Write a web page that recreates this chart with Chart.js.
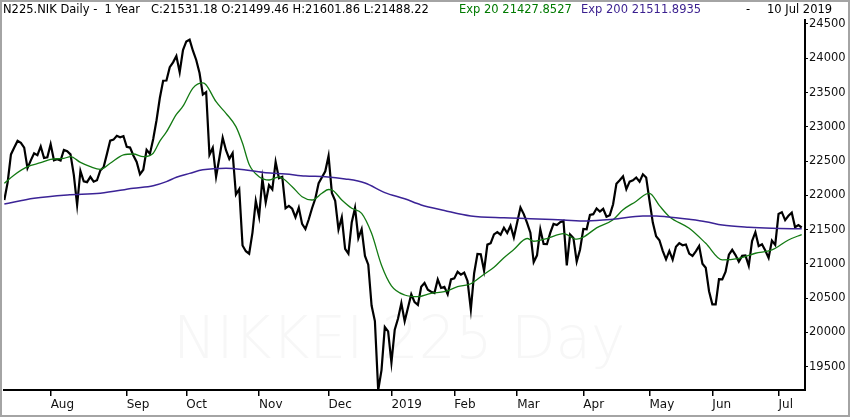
<!DOCTYPE html>
<html>
<head>
<meta charset="utf-8">
<script src="https://cdn.jsdelivr.net/npm/chart.js@4.4.1/dist/chart.umd.min.js"></script>
<style>
  html, body { margin: 0; padding: 0; background: #fff; }
  #frame {
    position: relative; width: 850px; height: 417px; box-sizing: border-box;
    border: 2px solid #a4a4a4; background: #fff; overflow: hidden;
  }
  #frame canvas { position: absolute; left: 0; top: 0; z-index: 1; }
  .hd { position: absolute; top: 0; font: 11.5px "DejaVu Sans", sans-serif; white-space: pre; z-index: 2; }
  #mark {
    position: absolute; left: 171px; top: 302px; z-index: 0;
    font: 200 58px "DejaVu Sans", sans-serif; color: #f7f7f7; white-space: pre;
  }
</style>
</head>
<body>
<div id="frame">
  <div class="hd" style="left:1px;color:#000">N225.NIK Daily -  1 Year   C:21531.18 O:21499.46 H:21601.86 L:21488.22</div>
  <div class="hd" style="left:457px;color:#007a00">Exp 20 21427.8527</div>
  <div class="hd" style="left:579px;color:#3a1f8f">Exp 200 21511.8935</div>
  <div class="hd" style="left:744px;color:#000">-</div>
  <div class="hd" style="left:765px;color:#000">10 Jul 2019</div>
  <div id="mark">NIKKEI 225 Day</div>
  <canvas id="chart" width="846" height="413"></canvas>
</div>
<script>
// daily closes, 11 Jul 2018 .. 10 Jul 2019 (trading-day index on x)
const closes = [
  // Jul 2018
  21932, 22188, 22597, 22698, 22794, 22765, 22697, 22397, 22510, 22614, 22587, 22713, 22545, 22554,
  // Aug
  22747, 22512, 22526, 22507, 22663, 22644, 22598, 22298, 21858, 22356, 22204, 22192, 22270, 22199,
  22220, 22362, 22410, 22601, 22799, 22813, 22869, 22848, 22865,
  // Sep
  22707, 22697, 22581, 22488, 22307, 22373, 22664, 22605, 22821, 23095, 23420, 23672, 23675, 23870,
  23940, 24034, 23797, 24120,
  // Oct
  24245, 24271, 24110, 23975, 23784, 23470, 23507, 22591, 22695, 22272, 22549, 22841, 22658, 22532,
  22615, 22011, 22092, 21268, 21185, 21149, 21457, 21920,
  // Nov
  21687, 22244, 21898, 22148, 22086, 22487, 22250, 22270, 21811, 21846, 21804, 21680, 21821, 21584,
  21508, 21647, 21812, 21953, 22177, 22263, 22351,
  // Dec
  22575, 22036, 21919, 21501, 21679, 21220, 21148, 21603, 21816, 21375, 21507, 21116, 20988, 20393,
  20166, 19156, 19450, 20078, 20015,
  // Jan 2019
  19561, 20039, 20204, 20427, 20164, 20360, 20556, 20443, 20402, 20666, 20720, 20622, 20594, 20575,
  20774, 20649, 20665, 20557, 20773,
  // Feb
  20788, 20884, 20844, 20874, 20751, 20333, 20864, 21144, 21140, 20901, 21281, 21302, 21431, 21464,
  21426, 21528, 21450, 21556, 21385,
  // Mar
  21603, 21822, 21726, 21597, 21456, 21025, 21125, 21504, 21290, 21287, 21451, 21584, 21567, 21609,
  21627, 20977, 21428, 21378, 21033, 21206,
  // Apr
  21509, 21505, 21713, 21725, 21807, 21762, 21802, 21688, 21711, 21870, 22169, 22221, 22278, 22091,
  22200, 22218, 22260, 22200, 22307, 22259,
  // May
  21923, 21602, 21402, 21345, 21191, 21067, 21189, 21063, 21250, 21302, 21272, 21283, 21151, 21117,
  21183, 21261, 21003, 20943, 20601,
  // Jun
  20410, 20408, 20776, 20774, 20885, 21134, 21205, 21129, 21032, 21117, 21124, 20972, 21333, 21462,
  21259, 21286, 21194, 21087, 21339, 21276,
  // Jul
  21730, 21754, 21638, 21702, 21747, 21535, 21565, 21531
];

// exponential averages at sample days
const ema20Idx = [0, 3, 7, 11, 14, 18, 20, 23, 26, 29, 32, 36, 39, 42, 45, 47, 49, 52, 54, 57, 60, 61,
  64, 67, 70, 72, 74, 77, 80, 83, 87, 90, 93, 96, 98, 99, 102, 105, 108, 111, 114, 117, 121, 125, 129,
  133, 137, 141, 145, 148, 151, 154, 158, 160, 164, 169, 173, 175, 179, 184, 187, 191, 194, 195, 198,
  201, 207, 212, 217, 222, 227, 232, 237, 241];
const ema20Val = [22176, 22297, 22418, 22476, 22526, 22540, 22565, 22480, 22418, 22380, 22468, 22589,
  22603, 22565, 22615, 22790, 22925, 23180, 23300, 23565, 23640, 23610, 23366, 23197, 23002, 22759,
  22450, 22272, 22224, 22270, 22126, 21980, 21932, 22030, 22085, 22080, 21932, 21811, 21738, 21446,
  20980, 20680, 20546, 20521, 20571, 20594, 20667, 20710, 20850, 20950, 21090, 21210, 21370, 21330,
  21370, 21440, 21360, 21390, 21525, 21645, 21790, 21915, 22020, 22030, 21850, 21689, 21519, 21300,
  21057, 21081, 21155, 21203, 21349, 21428];

const ema200Idx = [0, 9, 19, 29, 39, 45, 49, 52, 56, 60, 67, 73, 79, 85, 91, 97, 103, 109, 115, 121,
  126, 133, 141, 151, 159, 169, 176, 184, 193, 197, 200, 207, 212, 217, 225, 232, 241];
const ema200Val = [21874, 21957, 22005, 22030, 22103, 22140, 22200, 22265, 22320, 22372, 22395, 22370,
  22331, 22312, 22282, 22272, 22240, 22180, 22040, 21950, 21860, 21780, 21700, 21672, 21660, 21640,
  21626, 21650, 21699, 21699, 21689, 21650, 21616, 21567, 21534, 21519, 21512];

const monthIdx = [14, 37, 55, 77, 98, 117, 136, 155, 175, 195, 214, 234];
const monthLabels = ["Aug", "Sep", "Oct", "Nov", "Dec", "2019", "Feb", "Mar", "Apr", "May", "Jun", "Jul"];
const yTicks = [19500, 20000, 20500, 21000, 21500, 22000, 22500, 23000, 23500, 24000, 24500];

const pts = (xs, ys) => xs.map((x, i) => ({ x: x, y: ys[i] }));

new Chart(document.getElementById("chart").getContext("2d"), {
  type: "line",
  data: {
    datasets: [
      {
        data: pts(ema200Idx, ema200Val),
        borderColor: "#3b2396",
        borderWidth: 1.5,
        pointRadius: 0,
        cubicInterpolationMode: "monotone",
      },
      {
        data: pts(ema20Idx, ema20Val),
        borderColor: "#137a13",
        borderWidth: 1.3,
        pointRadius: 0,
        cubicInterpolationMode: "monotone",
      },
      {
        data: closes.map((v, i) => ({ x: i, y: v })),
        borderColor: "#000",
        borderWidth: 2.2,
        pointRadius: 0,
        tension: 0,
      },
    ],
  },
  options: {
    responsive: false,
    animation: false,
    layout: { padding: { top: 18, left: 2, right: 0, bottom: 0 } },
    plugins: { legend: { display: false }, tooltip: { enabled: false } },
    scales: {
      x: {
        type: "linear",
        min: -0.1,
        max: 242,
        afterBuildTicks: (s) => { s.ticks = monthIdx.map((v) => ({ value: v })); },
        afterFit: (s) => { s.height = 25; },
        grid: { drawOnChartArea: false, drawTicks: true, tickLength: 6, color: "#000", lineWidth: 1.5 },
        border: { display: true, color: "#000", width: 2 },
        ticks: {
          autoSkip: false,
          maxRotation: 0,
          align: "start",
          padding: 2,
          color: "#111",
          font: { family: "DejaVu Sans", size: 12 },
          callback: (v, i) => monthLabels[i],
        },
      },
      y: {
        position: "right",
        min: 19160,
        max: 24558,
        afterBuildTicks: (s) => { s.ticks = yTicks.map((v) => ({ value: v })); },
        afterFit: (s) => { s.width = 43; },
        grid: { drawOnChartArea: false, drawTicks: true, tickLength: 3, color: "#000" },
        border: { display: true, color: "#000", width: 2 },
        ticks: {
          padding: 1,
          color: "#111",
          font: { family: "DejaVu Sans", size: 11.5 },
          callback: (v) => String(v),
        },
      },
    },
  },
});
</script>
</body>
</html>
